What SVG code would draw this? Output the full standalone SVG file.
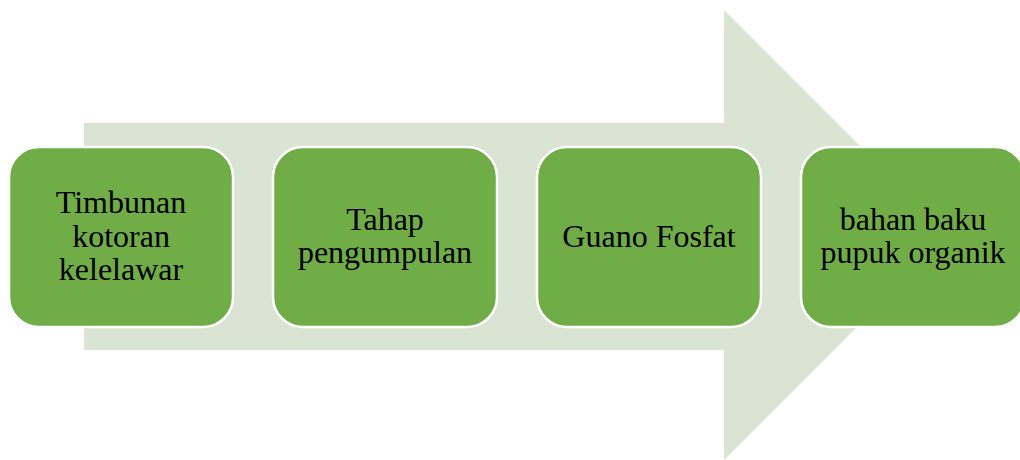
<svg xmlns="http://www.w3.org/2000/svg" width="1020" height="460" viewBox="0 0 1020 460">
<style>
.box{fill:#70AD47;stroke:#FFFFFF;stroke-width:2.5}
.t{font-family:"Liberation Serif","Times New Roman",serif;font-size:32px;fill:#000;text-anchor:middle}
</style>
<rect width="1020" height="460" fill="#FFFFFF"/>
<g id="connectors">
<polygon points="84,123 724,123 724,10 949,235 724,460 724,350 84,350" fill="#D9E4D3"/>
</g>
<g id="node1">
<rect class="box" x="9" y="147" width="224" height="180" rx="30" ry="30"/>
<text class="t" x="121" y="213">Timbunan</text>
<text class="t" x="121" y="247">kotoran</text>
<text class="t" x="121" y="280">kelelawar</text>
</g>
<g id="node2">
<rect class="box" x="273" y="147" width="224" height="180" rx="30" ry="30"/>
<text class="t" x="385" y="230">Tahap</text>
<text class="t" x="385" y="263">pengumpulan</text>
</g>
<g id="node3">
<rect class="box" x="537" y="147" width="224" height="180" rx="30" ry="30"/>
<text class="t" x="649" y="247">Guano Fosfat</text>
</g>
<g id="node4">
<rect class="box" x="801" y="147" width="224" height="180" rx="30" ry="30"/>
<text class="t" x="913" y="230">bahan baku</text>
<text class="t" x="913" y="263">pupuk organik</text>
</g>
</svg>
